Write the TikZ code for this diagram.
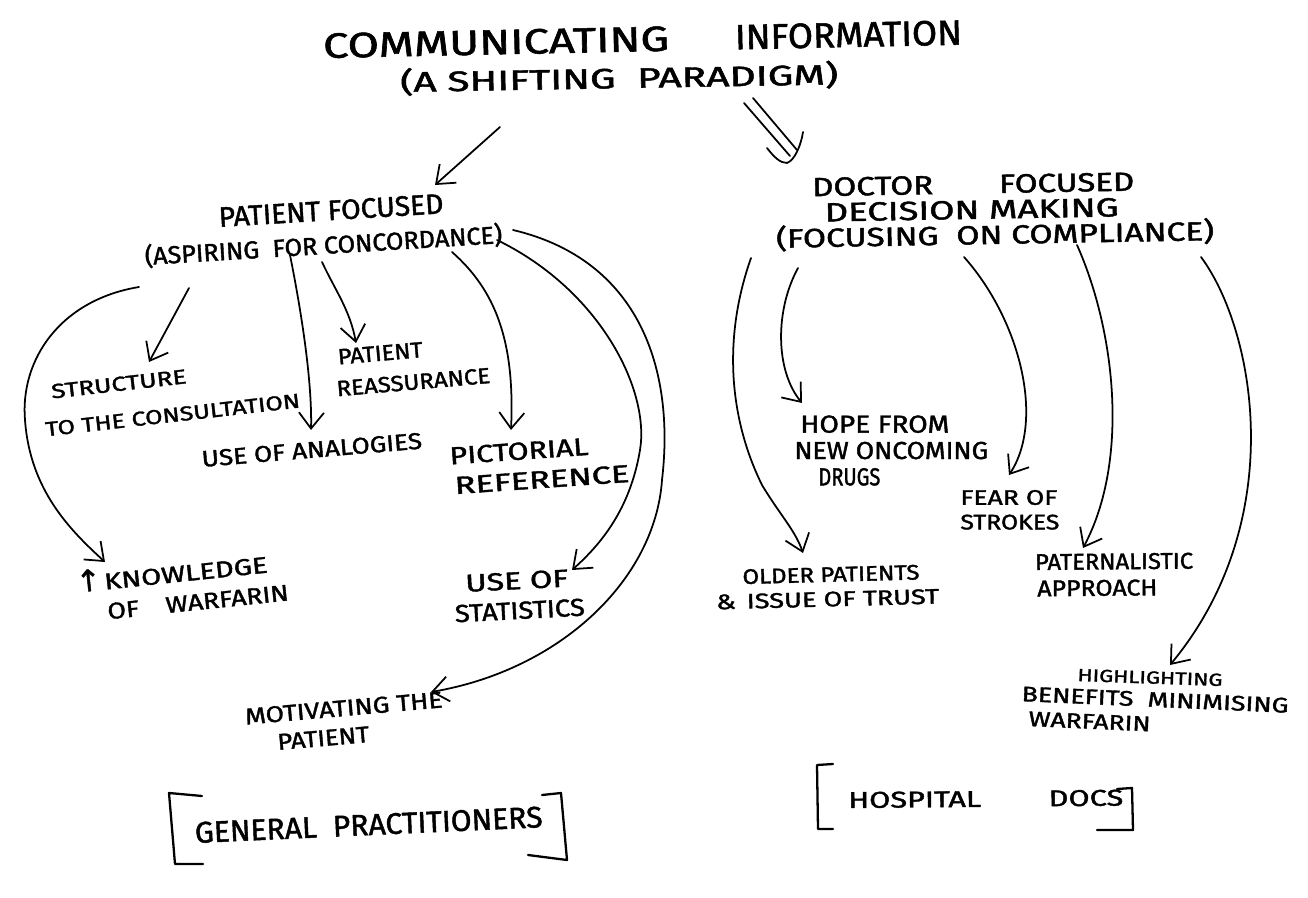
\documentclass[tikz,border=0pt]{standalone}
\usepackage{fontspec}
\usepackage{graphicx}
\usetikzlibrary{arrows.meta}
\newfontfamily\handfont[FakeBold=1.5]{Fira Sans}
\newfontfamily\symfont[FakeBold=1.5]{DejaVu Sans}
\newdimen\px \px=0.02cm
\newsavebox\fitbox
% set a line of text and stretch it horizontally to a given width (in px)
\newcommand\fitw[2]{\sbox\fitbox{#2}\scalebox{\fpeval{\number\dimexpr#1\px\relax/\number\wd\fitbox}}[1]{\usebox\fitbox}}

\tikzset{
  lab/.style 2 args={font=\handfont\fontsize{#1}{#2}\selectfont, inner sep=0pt, align=left},
  conn/.style={draw, line width=1pt, line cap=round, line join=round,
    -{Straight Barb[length=3.2mm,width=5mm,line width=1pt]}},
  bracket/.style={draw, line width=1.3pt, line cap=round, line join=round},
}

\begin{document}
\begin{tikzpicture}[x=0.02cm, y=-0.02cm]
\useasboundingbox[fill=white] (0,0) rectangle (1308,898);

% ---------- heading ----------
\node[lab={20}{22}, anchor=base west, rotate=1.2] (ttl) at (323,58)
  {\fitw{346}{COMMUNICATING}\hspace{66\px}\fitw{227}{INFORMATION}};
\node[lab={16}{18}, anchor=base west, rotate=1] (sub) at (400,92)
  {\fitw{438}{(A SHIFTING \ PARADIGM)}};

% ---------- general practitioners side ----------
\node[lab={16}{18}, anchor=base west, rotate=3.5] (pf) at (219,227)
  {\fitw{225}{PATIENT FOCUSED}};
\node[lab={14}{16}, anchor=base west, rotate=3.5] (pfsub) at (145,265)
  {\fitw{358}{(ASPIRING \ FOR CONCORDANCE)}};

\node[lab={11.5}{21}, anchor=south west, rotate=6.5] (struct) at (46,437)
  {\hspace*{10\px}\fitw{136}{STRUCTURE}\\ \fitw{256}{TO THE CONSULTATION}};
\node[lab={12.5}{18}, anchor=south west, rotate=5] (reass) at (337,397)
  {\hspace*{4\px}\fitw{85}{PATIENT}\\ \fitw{154}{REASSURANCE}};
\node[lab={13}{15}, anchor=base west, rotate=4.8] (anal) at (202,467)
  {\fitw{221}{USE OF ANALOGIES}};
\node[lab={14}{17}, anchor=south west, rotate=4] (pict) at (452,495)
  {\fitw{139}{PICTORIAL}\\ \hspace*{3\px}\fitw{175}{REFERENCE}};
\node[lab={13}{17}, anchor=south west, rotate=6] (know) at (108,620)
  {\llap{{\symfont\fontsize{17}{17}\selectfont ↑}\hspace{3\px}}\fitw{164}{KNOWLEDGE}\\
   \fitw{182}{OF\hspace{1em}WARFARIN}};
\node[lab={14}{17}, anchor=south west, rotate=3] (stat) at (455,623)
  {\hspace*{12\px}\fitw{103}{USE OF}\\ \fitw{130}{STATISTICS}};
\node[lab={13}{16}, anchor=south west, rotate=5] (motiv) at (248,753)
  {\fitw{198}{MOTIVATING THE}\\ \hspace*{30\px}\fitw{92}{PATIENT}};

\node[lab={17}{19}, anchor=base west, rotate=2.6] (gp) at (195,843)
  {\fitw{348}{GENERAL \ PRACTITIONERS}};
\draw[bracket] (202,796) -- (169,793) -- (175,864) -- (203,864);
\draw[bracket] (542,795) -- (561,793) -- (567,860) -- (528,855);

% ---------- hospital doctors side ----------
\node[lab={15}{14.5}, anchor=south west, rotate=1] (doc) at (776,252)
  {\hspace*{37\px}\fitw{322}{DOCTOR\hspace{2em}FOCUSED}\\
   \hspace*{49\px}\fitw{294}{DECISION MAKING}\\
   \fitw{438}{(FOCUSING \ ON COMPLIANCE)}};

\node[lab={14}{15}, anchor=south west] (hope) at (794,486)
  {\hspace*{6\px}\fitw{149}{HOPE FROM}\\ \fitw{194}{NEW ONCOMING}\\ \hspace*{24\px}\fitw{62}{DRUGS}};
\node[lab={12}{14}, anchor=south west] (fear) at (960,530)
  {\fitw{97}{FEAR OF}\\ \fitw{99}{STROKES}};
\node[lab={12}{14}, anchor=south west, rotate=1.5] (older) at (716,610)
  {\hspace*{27\px}\fitw{177}{OLDER PATIENTS}\\ \fitw{223}{\&\hspace{0.4em}ISSUE OF TRUST}};
\node[lab={13}{15}, anchor=south west, rotate=0.5] (pat) at (1035,597)
  {\fitw{158}{PATERNALISTIC}\\ \hspace*{2\px}\fitw{120}{APPROACH}};
\node[lab={10}{12}, anchor=base west, rotate=-2] (hlins) at (1077,681)
  {\fitw{145}{HIGHLIGHTING}};
\node[lab={12}{14}, anchor=south west, rotate=-2.5] (hl) at (1020,726)
  {\fitw{267}{BENEFITS \ MINIMISING}\\ \hspace*{8\px}\fitw{122}{WARFARIN}};

\node[lab={13}{15}, anchor=base west, rotate=0.5] (hd) at (848,808)
  {\fitw{275}{HOSPITAL\hspace{2.2em}DOCS}};
\draw[bracket] (833,764) -- (817,765) -- (818,829) -- (833,829);
\draw[bracket] (1117,789) -- (1132,788) -- (1133,830) -- (1097,830);

% ---------- connector ends ----------
\coordinate (ttl-a) at (500,127);   \coordinate (pf-in) at (435,185);
\coordinate (ttl-b1) at (744,103);  \coordinate (doc-in1) at (790,156);
\coordinate (ttl-b2) at (753,98);   \coordinate (doc-in2) at (797,150);
\coordinate (doc-tip) at (787,163);

\coordinate (g-kn) at (139,287);   \coordinate (kn-in) at (105,562);
\coordinate (g-st) at (189,288);   \coordinate (st-in) at (149,362);
\coordinate (g-an) at (290,255);   \coordinate (an-in) at (311,430);
\coordinate (g-re) at (322,262);   \coordinate (re-in) at (356,343);
\coordinate (g-pi) at (452,252);   \coordinate (pi-in) at (511,430);
\coordinate (g-sa) at (497,240);   \coordinate (sa-in) at (572,570);
\coordinate (g-mo) at (513,230);   \coordinate (mo-in) at (431,692);

\coordinate (h-ol) at (751,258);   \coordinate (ol-in) at (803,553);
\coordinate (h-ho) at (798,268);   \coordinate (ho-in) at (802,403);
\coordinate (h-fe) at (964,257);   \coordinate (fe-in) at (1009,475);
\coordinate (h-pa) at (1077,245);  \coordinate (pa-in) at (1083,548);
\coordinate (h-hl) at (1201,257);  \coordinate (hl-in) at (1170,665);

% ---------- connectors ----------
\draw[conn] (ttl-a) -- (pf-in);
\draw[line width=1pt, line cap=round] (ttl-b1) -- (doc-in1) (ttl-b2) -- (doc-in2);
\draw[line width=1pt, line cap=round, line join=round]
  (767,148) .. controls (774,157) and (780,163) .. (doc-tip)
  .. controls (795,160) and (801,145) .. (803,132);

\draw[conn] (g-kn) .. controls (60,300) and (20,360) .. (25,420)
  .. controls (30,490) and (70,530) .. (kn-in);
\draw[conn] (g-st) -- (st-in);
\draw[conn] (g-an) .. controls (305,330) and (312,390) .. (an-in);
\draw[conn] (g-re) .. controls (335,290) and (350,310) .. (re-in);
\draw[conn] (g-pi) .. controls (495,290) and (515,340) .. (pi-in);
\draw[conn] (g-sa) .. controls (600,290) and (650,390) .. (640,450)
  .. controls (630,510) and (600,545) .. (sa-in);
\draw[conn] (g-mo) .. controls (640,260) and (675,370) .. (662,480)
  .. controls (655,580) and (560,670) .. (mo-in);

\draw[conn] (h-ol) .. controls (722,340) and (730,420) .. (762,485)
  .. controls (780,515) and (795,530) .. (ol-in);
\draw[conn] (h-ho) .. controls (775,310) and (775,370) .. (ho-in);
\draw[conn] (h-fe) .. controls (1020,320) and (1045,420) .. (fe-in);
\draw[conn] (h-pa) .. controls (1115,330) and (1130,460) .. (pa-in);
\draw[conn] (h-hl) .. controls (1255,330) and (1290,520) .. (hl-in);
\end{tikzpicture}
\end{document}
